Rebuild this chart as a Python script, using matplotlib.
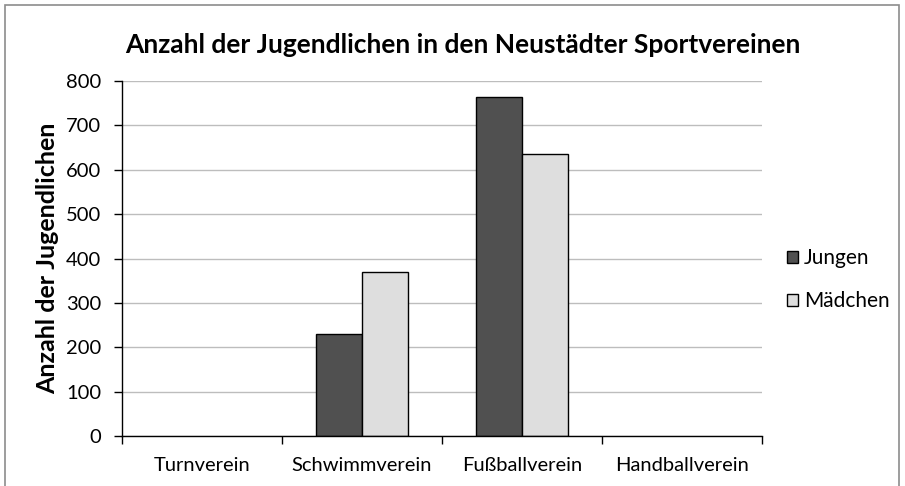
import matplotlib.pyplot as plt
import numpy as np
from matplotlib.patches import Rectangle, Patch

plt.rcParams['font.family'] = ['Lato', 'DejaVu Sans']

vereine = ["Turnverein", "Schwimmverein", "Fußballverein", "Handballverein"]
jungen = [0, 230, 765, 0]
maedchen = [0, 370, 635, 0]

fig = plt.figure(figsize=(9.05, 4.86), dpi=100)
ax = fig.add_axes([0.1348, 0.1029, 0.7072, 0.7304])

x = np.arange(len(vereine))
w = 0.285
# no outline for empty bars so nothing shows on the axis line
ax.bar(x - w / 2, jungen, w, color="#505050", linewidth=1, zorder=2,
       edgecolor=["black" if v > 0 else "none" for v in jungen])
ax.bar(x + w / 2, maedchen, w, color="#DEDEDE", linewidth=1, zorder=2,
       edgecolor=["black" if v > 0 else "none" for v in maedchen])

ax.set_xlim(-0.5, len(vereine) - 0.5)
ax.set_ylim(0, 800)
ax.set_yticks(range(0, 801, 100))

# category labels centred, ticks on the category boundaries
ax.set_xticks(np.arange(-0.5, len(vereine), 1))
ax.set_xticklabels([])
ax.set_xticks(x, minor=True)
ax.set_xticklabels(vereine, minor=True, fontsize=14.5)
ax.tick_params(axis="x", which="minor", length=0, pad=15)
ax.tick_params(axis="x", which="major", length=6, direction="out", width=1)
ax.tick_params(axis="y", length=6, direction="out", width=1, labelsize=14.5, pad=9)

for s in ["top", "right"]:
    ax.spines[s].set_visible(False)
for s in ["left", "bottom"]:
    ax.spines[s].set_linewidth(1)
    ax.spines[s].set_zorder(4)
ax.yaxis.grid(True, color="#BDBDBD", linewidth=1)
for gl in ax.get_ygridlines():
    gl.set_zorder(0)

ax.set_ylabel("Anzahl der Jugendlichen", fontsize=18, fontweight="bold", labelpad=5)
fig.text(0.511, 0.907, "Anzahl der Jugendlichen in den Neustädter Sportvereinen",
         ha="center", va="center", fontsize=19, fontweight="bold")

handles = [Patch(facecolor="#505050", edgecolor="black", linewidth=1),
           Patch(facecolor="#DEDEDE", edgecolor="black", linewidth=1)]
ax.legend(handles, ["Jungen", "Mädchen"], loc="center left", bbox_to_anchor=(1.01, 0.44),
          frameon=False, fontsize=15, handlelength=0.5, handleheight=0.5,
          handletextpad=0.3, labelspacing=1.1)

# outer chart frame
fig.patches.append(Rectangle((5 / 905, -0.05), 894 / 905, 1 - 5 / 486 + 0.05,
                             transform=fig.transFigure, fill=False,
                             edgecolor="#8C8C8C", linewidth=1.2))

fig.savefig("out.png", dpi=100)
